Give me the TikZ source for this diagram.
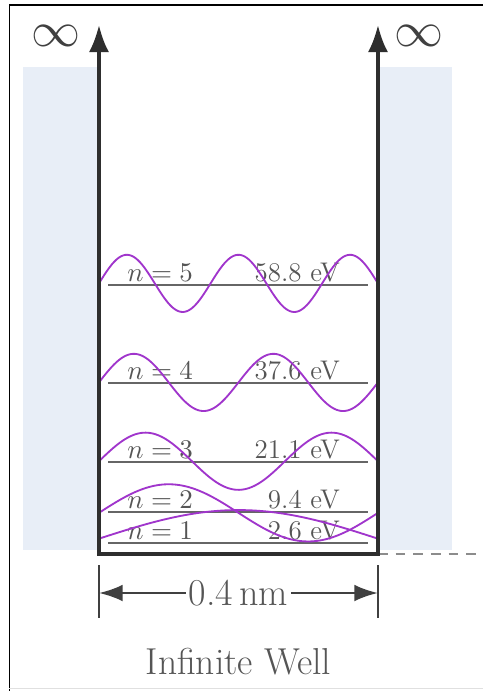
\RequirePackage{fix-cm}
\documentclass[tikz,border=0pt]{standalone}
\usepackage{amsmath,amssymb}
\usepackage{fontspec}
\usepackage{tikz}
\usetikzlibrary{arrows.meta}

\definecolor{wellblue}{HTML}{E8EEF7}
\definecolor{inkgray}{HTML}{555555}
\definecolor{levelgray}{HTML}{666666}
\definecolor{wavepurple}{HTML}{A035CC}

\begin{document}
\begin{tikzpicture}[scale=1.0,>={Latex[length=3.9mm,width=2.9mm]},
    wall/.style={line width=1.35pt,draw=black!82},
    level/.style={line width=1.1pt,draw=levelgray},
    wave/.style={line width=0.75pt,draw=wavepurple},
    floorline/.style={line width=0.8pt,draw=black!45,dash pattern=on 4pt off 3.2pt},
    lbl/.style={inner sep=0pt,text=inkgray,font=\fontsize{11}{13}\selectfont},
    dim/.style={line width=1pt,draw=black!75},
    dimarrow/.style={dim,-{Latex[length=3.4mm,width=2.4mm]}}]
      \useasboundingbox (-1.419,-1.964) rectangle (5.505,7.943);
      \fill[white] (-1.419,-1.964) rectangle (5.505,7.943);
      % frame
      \draw[line width=0.6pt] (-1.283,-1.964) -- (-1.283,7.871) -- (5.505,7.871);
      \draw[black!12] (-1.283,-1.935) -- (5.505,-1.935);
      % walls
      \fill[wellblue] (-1.09,0.06) rectangle (0,6.98);
      \fill[wellblue] (4,0.06) rectangle (5.06,6.98);
      \coordinate (botL) at (0,0);
      \coordinate (botR) at (4,0);
      \coordinate (topL) at (0,7.584);
      \coordinate (topR) at (4,7.584);
      \coordinate (edge) at (5.505,0);
      \draw[floorline] (botR) -- (edge);
      \node[text=black!75,font=\fontsize{20}{21}\selectfont] (infL) at (-0.617,7.427) {$\infty$};
      \node[text=black!75,font=\fontsize{20}{21}\selectfont] (infR) at (4.588,7.427) {$\infty$};
      % levels
      \foreach \n/\lev/\en in {1/0.158/2.6, 2/0.602/9.4, 3/1.319/21.1, 4/2.452/37.6, 5/3.857/58.8}{
        \draw[level] (0.13,\lev) -- (3.86,\lev);
        \node[lbl,anchor=base west] (n\n) at (0.40,\lev+0.05) {$n=\n$};
        \node[lbl,anchor=base east] (E\n) at (3.46,\lev+0.05) {\en\ eV};
      }
      \foreach \n/\mid in {1/0.22, 2/0.59, 3/1.33, 4/2.46, 5/3.88}
        \draw[wave] plot[domain=0:4,samples=150,smooth] (\x,{\mid+0.41*sin(45*\n*\x)});
      \draw[wall,<->] (topL) -- (botL) -- (botR) -- (topR);
      % width
      \coordinate (tL) at (0,-0.559);
      \coordinate (tR) at (4,-0.559);
      \draw[dim] (0,-0.16) -- (0,-0.92);
      \draw[dim] (4,-0.16) -- (4,-0.92);
      \node[inner sep=1pt,text=inkgray,font=\fontsize{15.5}{18}\selectfont] (width) at (2,-0.559) {0.4\,nm};
      \draw[dimarrow] (width.west) -- (tL);
      \draw[dimarrow] (width.east) -- (tR);
      \node[text=inkgray,font=\fontsize{15.3}{18}\selectfont] (title) at (2,-1.548) {Infinite Well};
    \end{tikzpicture}
\end{document}
